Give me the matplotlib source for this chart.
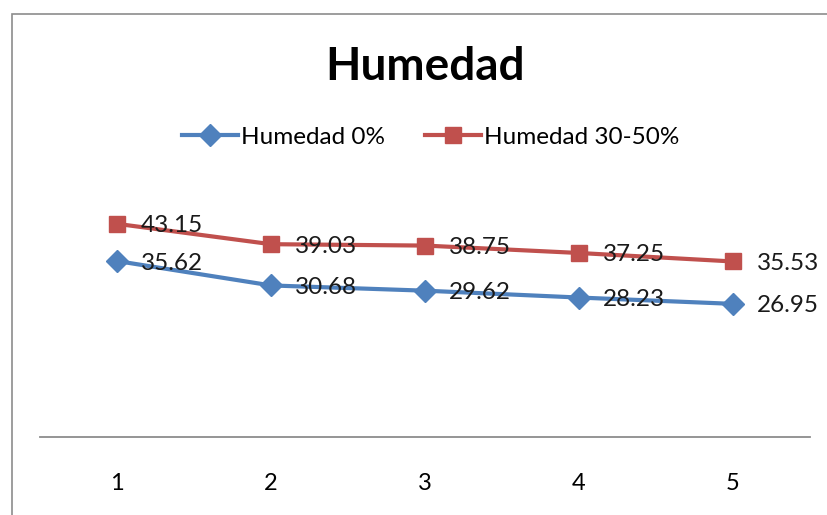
import matplotlib
matplotlib.use("Agg")
import matplotlib.pyplot as plt
from matplotlib.patches import Rectangle

categories = ["1", "2", "3", "4", "5"]
humedad_0 = [35.62, 30.68, 29.62, 28.23, 26.95]
humedad_30_50 = [43.15, 39.03, 38.75, 37.25, 35.53]
series_names = ["Humedad 0%", "Humedad 30-50%"]
title = "Humedad"

W, H = 827, 515
plt.rcParams['font.family'] = ['Lato', 'DejaVu Sans']
fig = plt.figure(figsize=(W/100, H/100), dpi=100)

# chart border (Excel-like)
fig.patches.append(Rectangle((12/W, -0.1), 1.2, 1 - 14/H + 0.1, transform=fig.transFigure,
                             fill=False, edgecolor='#8c8c8c', linewidth=1.2))

ax = fig.add_axes([40/W, 78/H, 770/W, (437-190)/H])
x = list(range(len(categories)))
blue = '#4F81BD'
red = '#C0504D'
l1, = ax.plot(x, humedad_0, color=blue, lw=3, marker='D', ms=11, label=series_names[0], zorder=3)
l2, = ax.plot(x, humedad_30_50, color=red, lw=3, marker='s', ms=12, label=series_names[1], zorder=3)

for xs, ys in ((x, humedad_0), (x, humedad_30_50)):
    for xi, yi in zip(xs, ys):
        ax.annotate(f"{yi:.2f}", (xi, yi), xytext=(24, -2), textcoords='offset pixels',
                    ha='left', va='center', fontsize=17.5, color='#1a1a1a', zorder=4)

ax.set_xlim(-0.5, 4.5)
ax.set_ylim(0, 50)
ax.set_xticks(x)
ax.set_xticklabels(categories, fontsize=17)
ax.tick_params(axis='x', length=0, pad=26)
ax.set_yticks([])
for s in ('top', 'right', 'left'):
    ax.spines[s].set_visible(False)
ax.spines['bottom'].set_color('#8c8c8c')
ax.spines['bottom'].set_linewidth(1.3)

fig.text(425/W, 1 - 67/H, title, ha='center', va='center', fontsize=33, fontweight='bold')

fig.legend(handles=[l1, l2], loc='center', bbox_to_anchor=(431/W, 1 - 137/H), ncol=2,
           frameon=False, fontsize=17.5, handlelength=2.3, handletextpad=0.12, columnspacing=1.65)

fig.savefig("out.png", dpi=100)
